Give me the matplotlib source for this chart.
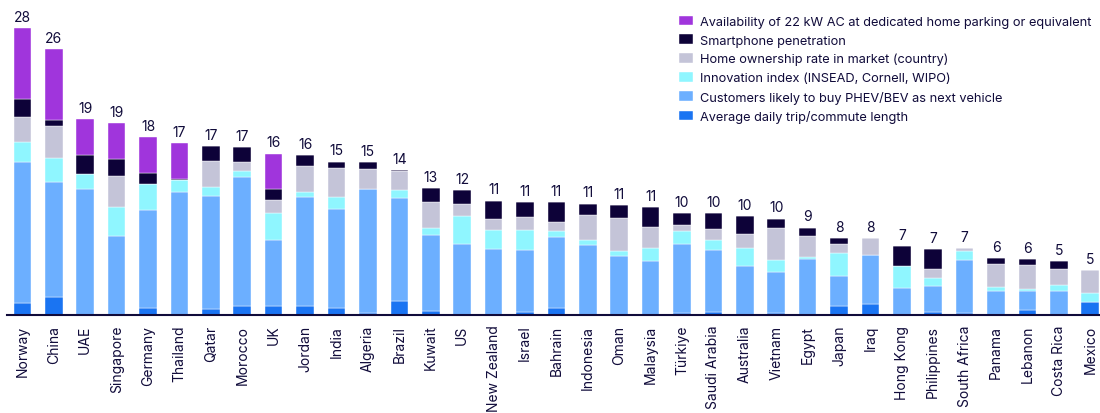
import matplotlib.pyplot as plt
import numpy as np

plt.rcParams['font.family'] = ['Inter', 'DejaVu Sans']

countries = ['Norway', 'China', 'UAE', 'Singapore', 'Germany', 'Thailand', 'Qatar', 'Morocco',
             'UK', 'Jordan', 'India', 'Algeria', 'Brazil', 'Kuwait', 'US', 'New Zealand', 'Israel',
             'Bahrain', 'Indonesia', 'Oman', 'Malaysia', 'Türkiye', 'Saudi Arabia', 'Australia',
             'Vietnam', 'Egypt', 'Japan', 'Iraq', 'Hong Kong', 'Philippines', 'South Africa',
             'Panama', 'Lebanon', 'Costa Rica', 'Mexico']

# segments, bottom to top
commute = [1.17, 1.79, 0, 0, 0.65, 0, 0.62, 0.88, 0.85, 0.85, 0.72, 0.23, 1.40, 0.39, 0, 0, 0.33,
           0.72, 0, 0, 0, 0.23, 0.33, 0, 0.23, 0, 0.91, 1.07, 0, 0.29, 0.20, 0, 0.46, 0, 1.27]
likely_buy = [13.77, 11.23, 12.34, 7.75, 9.64, 12.04, 11.04, 12.63, 6.51, 10.64, 9.67, 12.11, 10.03,
              7.45, 6.97, 6.48, 6.05, 6.93, 6.87, 5.79, 5.31, 6.74, 6.02, 4.79, 3.97, 5.47, 2.93,
              4.79, 2.64, 2.57, 5.14, 2.34, 1.89, 2.34, 0]
innovation = [1.92, 2.28, 1.46, 2.83, 2.47, 1.17, 0.88, 0.59, 2.64, 0.52, 1.14, 0, 0.78, 0.65, 2.73,
              1.86, 1.95, 0.52, 0.49, 0.46, 1.27, 1.20, 0.98, 1.76, 1.14, 0.23, 2.18, 0, 2.15, 0.72,
              0.91, 0.39, 0.20, 0.55, 0.91]
home_own = [2.44, 3.16, 0, 3.03, 0, 0, 2.51, 0.85, 1.20, 2.51, 2.80, 1.95, 1.86, 2.51, 1.17, 1.07,
            1.27, 0.94, 2.41, 3.22, 2.05, 0.62, 1.11, 1.37, 3.13, 2.05, 0.88, 1.63, 0, 0.94, 0.26,
            2.25, 2.31, 1.60, 2.21]
smartphone = [1.79, 0.62, 1.86, 1.63, 1.14, 0.10, 1.46, 1.43, 1.11, 1.07, 0.65, 0.65, 0.10, 1.43,
              1.37, 1.76, 1.46, 1.89, 1.11, 1.30, 1.92, 1.17, 1.50, 1.76, 0.94, 0.78, 0.62, 0, 1.92,
              1.95, 0, 0.55, 0.59, 0.75, 0]
ac22 = [6.90, 6.90, 3.48, 3.52, 3.45, 3.48, 0, 0, 3.45, 0, 0, 0, 0, 0, 0, 0, 0, 0, 0, 0, 0, 0, 0, 0,
        0, 0, 0, 0, 0, 0, 0, 0, 0, 0, 0]
totals = [28, 26, 19, 19, 18, 17, 17, 17, 16, 16, 15, 15, 14, 13, 12, 11, 11, 11, 11, 11, 11, 10, 10,
          10, 10, 9, 8, 8, 7, 7, 7, 6, 6, 5, 5]

series = [
    (commute, '#1a74f2', 'Average daily trip/commute length'),
    (likely_buy, '#6cafff', 'Customers likely to buy PHEV/BEV as next vehicle'),
    (innovation, '#8ff6ff', 'Innovation index (INSEAD, Cornell, WIPO)'),
    (home_own, '#c4c4d8', 'Home ownership rate in market (country)'),
    (smartphone, '#0d0238', 'Smartphone penetration'),
    (ac22, '#a035dc', 'Availability of 22 kW AC at dedicated home parking or equivalent'),
]

text_color = '#100b3a'
fig = plt.figure(figsize=(11, 4.14), dpi=100)
ax = fig.add_axes([0.0064, 0.2367, 0.9936, 0.7633])

x = np.arange(len(countries))
bottom = np.zeros(len(countries))
handles = []
for vals, color, label in series:
    vals = np.array(vals)
    b = ax.bar(x, vals, bottom=bottom, width=0.56, color=color, edgecolor='white',
               linewidth=0.3, label=label)
    handles.append(b)
    bottom += vals

for i, t in enumerate(totals):
    ax.annotate(str(t), (x[i], bottom[i]), xytext=(0, 3), textcoords='offset points',
                ha='center', va='bottom', fontsize=10, color=text_color)

ax.set_xlim(-0.49, 34.31)
ax.set_ylim(0, 30.86)
ax.set_xticks(x)
ax.set_xticklabels(countries, rotation=90, fontsize=10, color=text_color)
ax.tick_params(axis='x', length=0, pad=7)
ax.set_yticks([])
for s in ['top', 'right', 'left']:
    ax.spines[s].set_visible(False)
ax.spines['bottom'].set_color(text_color)
ax.spines['bottom'].set_linewidth(1.5)

fig.legend(handles[::-1], [s[2] for s in series[::-1]], loc='upper left',
           bbox_to_anchor=(0.617, 0.96), frameon=False, fontsize=9.2,
           handlelength=1.1, handleheight=0.8, handletextpad=0.6, labelspacing=0.5,
           borderpad=0, borderaxespad=0, labelcolor=text_color)

fig.savefig('out.png', dpi=100)
